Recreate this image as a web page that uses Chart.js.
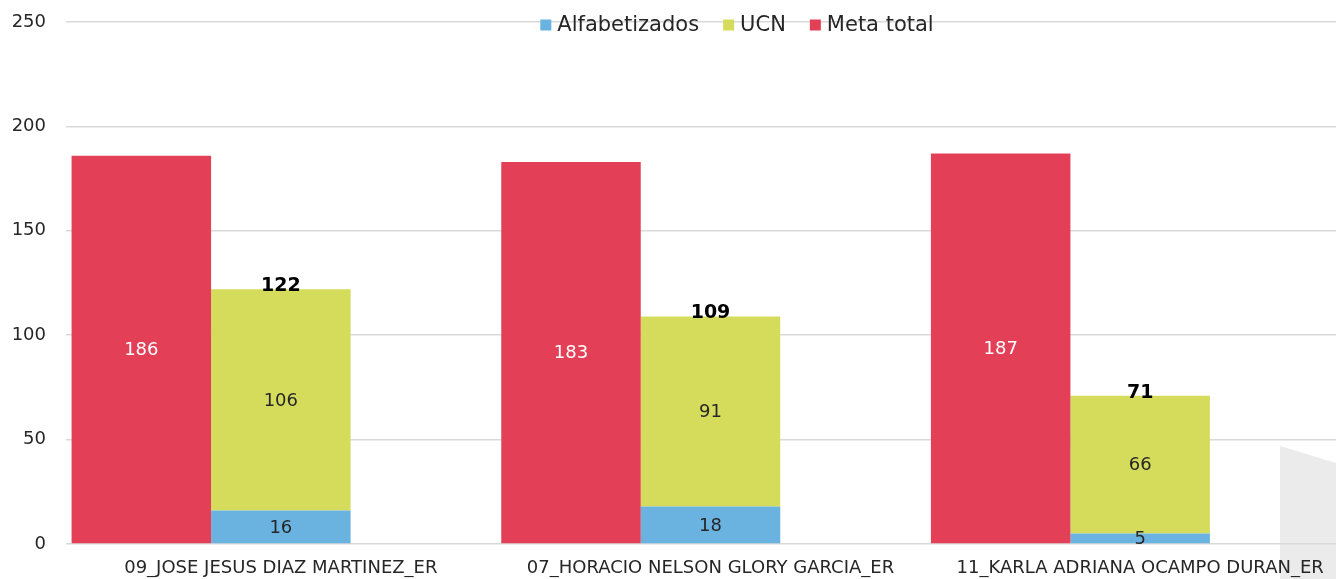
<!DOCTYPE html>
<html>
<head>
<meta charset="utf-8">
<script src="https://cdn.jsdelivr.net/npm/chart.js@4/dist/chart.umd.min.js"></script>
<style>
    html, body { margin: 0; padding: 0; background: #fff; overflow: hidden; }
    #wrap { position: relative; width: 1336px; height: 579px; overflow: hidden; }
    #shade {
        position: absolute; left: 1280px; top: 446px; width: 56px; height: 133px;
        background: #ebebeb;
        clip-path: polygon(0 0, 100% 17px, 100% 100%, 0 100%);
    }
    #grafica { position: absolute; left: 0; top: 0; }
</style>
</head>
<body>
<div id="wrap">
    <div id="shade"></div>
    <canvas id="grafica" width="1474" height="579"></canvas>
</div>
<script>
// Datos
const promotores = ['09_JOSE JESUS DIAZ MARTINEZ_ER', '07_HORACIO NELSON GLORY GARCIA_ER', '11_KARLA ADRIANA OCAMPO DURAN_ER'];
const metaTotal = [186, 183, 187];
const alfabetizados = [16, 18, 5];
const ucn = [106, 91, 66];
const totalAvance = [122, 109, 71];
const ticksY = [0, 50, 100, 150, 200, 250];

const fuente = 'DejaVu Sans';
const colorTexto = '#262626';

// Etiquetas de valor dentro de las barras y total encima de la barra apilada
const etiquetasPlugin = {
    id: 'etiquetas',
    afterDatasetsDraw: function(chart) {
        const ctx = chart.ctx;
        ctx.save();
        ctx.textAlign = 'center';
        ctx.textBaseline = 'middle';
        chart.data.datasets.forEach(function(ds, i) {
            if (!ds.mostrarValor) return;
            const meta = chart.getDatasetMeta(i);
            meta.data.forEach(function(bar, j) {
                ctx.font = '18px "' + fuente + '"';
                ctx.fillStyle = ds.colorValor;
                ctx.fillText(ds.data[j], bar.x, (bar.y + bar.base) / 2 + 1);
            });
        });
        // totales sobre la barra de avance
        const metaUcn = chart.getDatasetMeta(2);
        metaUcn.data.forEach(function(bar, j) {
            ctx.font = 'bold 19px "' + fuente + '"';
            ctx.fillStyle = '#000';
            ctx.fillText(totalAvance[j], bar.x, bar.y - 3);
        });
        ctx.restore();
    }
};

// Leyenda centrada arriba, encima de la cuadrícula
const leyendaPlugin = {
    id: 'leyendaArriba',
    afterDraw: function(chart) {
        const ctx = chart.ctx;
        const orden = [1, 2, 0];
        const caja = 11, sep = 6, hueco = 24, yCentro = 25;
        ctx.save();
        ctx.font = '21px "' + fuente + '"';
        ctx.textBaseline = 'middle';
        let total = 0;
        orden.forEach(function(i, k) {
            total += caja + sep + ctx.measureText(chart.data.datasets[i].label).width;
            if (k < orden.length - 1) total += hueco;
        });
        let x = chart.width / 2 - total / 2;
        orden.forEach(function(i) {
            const ds = chart.data.datasets[i];
            ctx.fillStyle = ds.backgroundColor;
            ctx.fillRect(x, yCentro - caja / 2, caja, caja);
            x += caja + sep;
            ctx.fillStyle = colorTexto;
            ctx.fillText(ds.label, x, yCentro + 1);
            x += ctx.measureText(ds.label).width + hueco;
        });
        ctx.restore();
    }
};

new Chart(document.getElementById('grafica'), {
    type: 'bar',
    data: {
        labels: promotores,
        datasets: [{
            label: 'Meta total',
            data: metaTotal,
            backgroundColor: '#e34058',
            stack: 'meta',
            mostrarValor: true,
            colorValor: '#ffffff'
        }, {
            label: 'Alfabetizados',
            data: alfabetizados,
            backgroundColor: '#6ab3e0',
            stack: 'avance',
            mostrarValor: true,
            colorValor: colorTexto
        }, {
            label: 'UCN',
            data: ucn,
            backgroundColor: '#d5dc5c',
            stack: 'avance',
            mostrarValor: true,
            colorValor: colorTexto
        }, {
            label: '',
            data: [0, 0, 0],
            backgroundColor: 'rgba(0,0,0,0)',
            stack: 'vacio'
        }]
    },
    options: {
        responsive: false,
        animation: false,
        devicePixelRatio: 1,
        categoryPercentage: 0.974,
        barPercentage: 1,
        layout: {
            padding: { top: 22, left: 12, right: 119, bottom: 1.5 }
        },
        plugins: {
            legend: { display: false },
            tooltip: { enabled: false }
        },
        scales: {
            x: {
                stacked: true,
                grid: { display: false, drawTicks: false },
                border: { display: false },
                afterFit: function(scale) { scale.height = 33.5; },
                ticks: {
                    padding: 14,
                    color: colorTexto,
                    font: { family: fuente, size: 18 },
                    maxRotation: 0,
                    autoSkip: false
                }
            },
            y: {
                stacked: true,
                min: 0,
                max: 250,
                afterBuildTicks: function(axis) {
                    axis.ticks = ticksY.map(function(v) { return { value: v }; });
                },
                afterFit: function(scale) {
                    scale.width = 54;
                    scale.paddingTop = 11;
                    scale.paddingBottom = 0;
                },
                grid: { color: '#d9d9d9', lineWidth: 1.5, drawTicks: false },
                border: { display: false },
                ticks: {
                    padding: 20,
                    color: colorTexto,
                    font: { family: fuente, size: 18 }
                }
            }
        }
    },
    plugins: [etiquetasPlugin, leyendaPlugin]
});
</script>
</body>
</html>
